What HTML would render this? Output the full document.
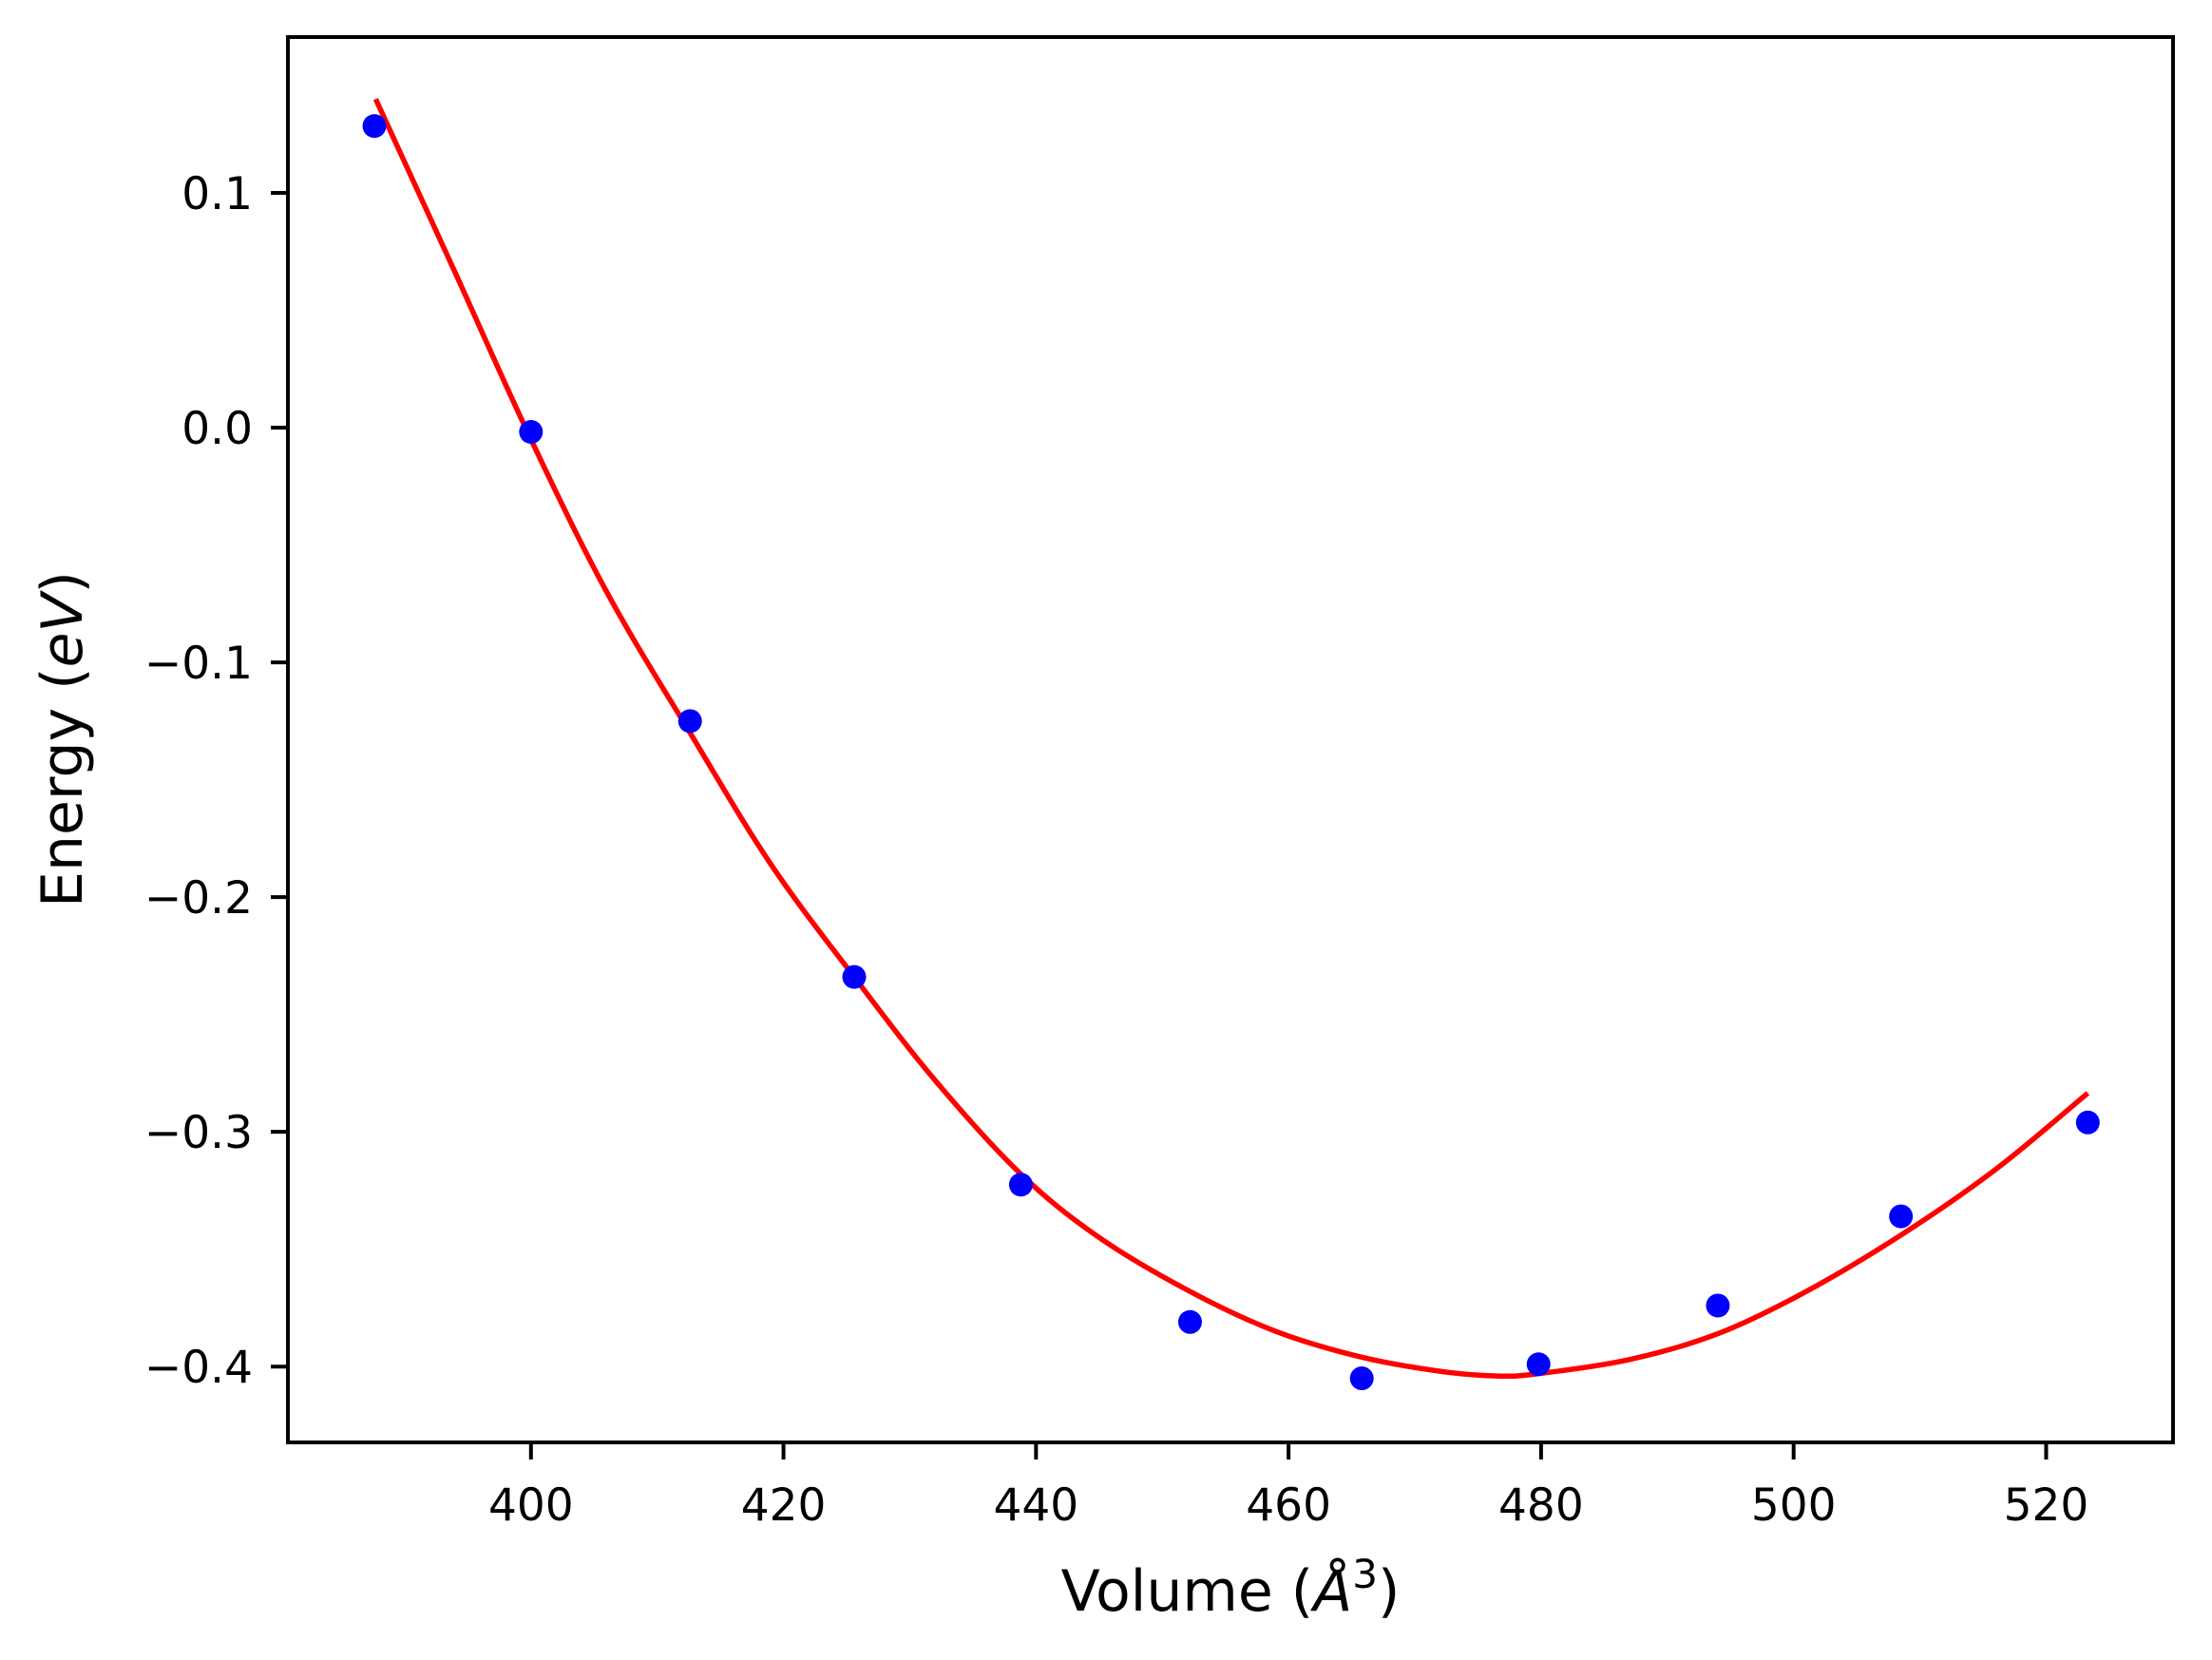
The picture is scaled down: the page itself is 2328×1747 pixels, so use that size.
<!DOCTYPE html>
<html><head><meta charset="utf-8">
<style>
html,body{margin:0;padding:0;background:#fff;}
svg{display:block;font-family:"DejaVu Sans","Liberation Sans",sans-serif;}
</style></head>
<body>
<svg id="chart" width="2328" height="1747" viewBox="0 0 2328 1747" xmlns="http://www.w3.org/2000/svg">
<rect x="0" y="0" width="2328" height="1747" fill="#fff"/>
<g id="plot"></g>
<g id="axes"></g>
<text x="1295" y="1695" font-size="60" text-anchor="middle">Volume (<tspan font-style="italic">Å</tspan><tspan font-size="42" dy="-24">3</tspan><tspan dy="24">)</tspan></text>
<text transform="translate(86,778) rotate(-90)" font-size="60" text-anchor="middle">Energy (<tspan font-style="italic">eV</tspan>)</text>
</svg>
<script>
const volumes = [387.6, 400.0, 412.6, 425.6, 438.8, 452.2, 465.8, 479.8, 494.0, 508.5, 523.3];
const energies = [0.1285, -0.0018, -0.125, -0.234, -0.3225, -0.381, -0.405, -0.399, -0.374, -0.336, -0.296];
const fitVolumes = [387.7, 394, 400.0, 406, 412.6, 419, 425.6, 432, 438.8, 445, 452.2, 459, 465.8, 472, 476.5, 479.8, 487, 494.0, 501, 508.5, 516, 523.3];
const fitEnergies = [0.140, 0.066, -0.005, -0.070, -0.130, -0.186, -0.234, -0.278, -0.318, -0.345, -0.368, -0.385, -0.396, -0.402, -0.404, -0.403, -0.397, -0.386, -0.368, -0.344, -0.316, -0.2835];
const xTicks = [400, 420, 440, 460, 480, 500, 520];
const yTicks = [0.1, 0.0, -0.1, -0.2, -0.3, -0.4];
const yTickLabels = ["0.1", "0.0", "\u22120.1", "\u22120.2", "\u22120.3", "\u22120.4"];

const L = 303, R = 2287, T = 39, B = 1518;
const xMin = 380.75, xMax = 530.05;
const yMax = 0.1664, yMin = -0.4323;
function xs(v){ return L + (v - xMin) / (xMax - xMin) * (R - L); }
function ys(v){ return T + (yMax - v) / (yMax - yMin) * (B - T); }
const NS = "http://www.w3.org/2000/svg";
const plot = document.getElementById('plot');
const axes = document.getElementById('axes');
function mk(tag, attrs, parent){
  const e = document.createElementNS(NS, tag);
  for (const k in attrs) e.setAttribute(k, attrs[k]);
  parent.appendChild(e);
  return e;
}
// fit curve (Catmull-Rom through read samples)
const pts = fitVolumes.map((v,i)=>[xs(v), ys(fitEnergies[i])]);
let d = "M" + pts[0][0].toFixed(2) + "," + pts[0][1].toFixed(2);
for (let i=0;i<pts.length-1;i++){
  const p0 = pts[Math.max(0,i-1)], p1 = pts[i], p2 = pts[i+1], p3 = pts[Math.min(pts.length-1,i+2)];
  const c1 = [p1[0]+(p2[0]-p0[0])/6, p1[1]+(p2[1]-p0[1])/6];
  const c2 = [p2[0]-(p3[0]-p1[0])/6, p2[1]-(p3[1]-p1[1])/6];
  d += " C" + c1[0].toFixed(2)+","+c1[1].toFixed(2)+" "+c2[0].toFixed(2)+","+c2[1].toFixed(2)+" "+p2[0].toFixed(2)+","+p2[1].toFixed(2);
}
const curve = mk('path', {d: d, fill: 'none', stroke: '#ff0000', 'stroke-width': 5.5}, plot);


volumes.forEach((v,i)=>{
  const c = mk('circle', {cx: xs(v), cy: ys(energies[i]), r: 12.5, fill: '#0000ff'}, plot);
  
  
});
// frame
const frame = mk('rect', {x: L, y: T, width: R-L, height: B-T, fill: 'none', stroke: '#000', 'stroke-width': 4}, axes);


xTicks.forEach(v=>{
  const x = xs(v);
  const t = mk('line', {x1: x, y1: B, x2: x, y2: B+18, stroke: '#000', 'stroke-width': 4}, axes);
  
  
  const lb = mk('text', {x: x, y: 1600, 'font-size': 47, 'text-anchor': 'middle'}, axes);
  lb.textContent = String(v);
  
  
});
yTicks.forEach((v,i)=>{
  const y = ys(v);
  const t = mk('line', {x1: L-18, y1: y, x2: L, y2: y, stroke: '#000', 'stroke-width': 4}, axes);
  
  
  const lb = mk('text', {x: 266, y: y+17, 'font-size': 47, 'text-anchor': 'end'}, axes);
  lb.textContent = yTickLabels[i];
  
  
});
</script>
</body></html>
